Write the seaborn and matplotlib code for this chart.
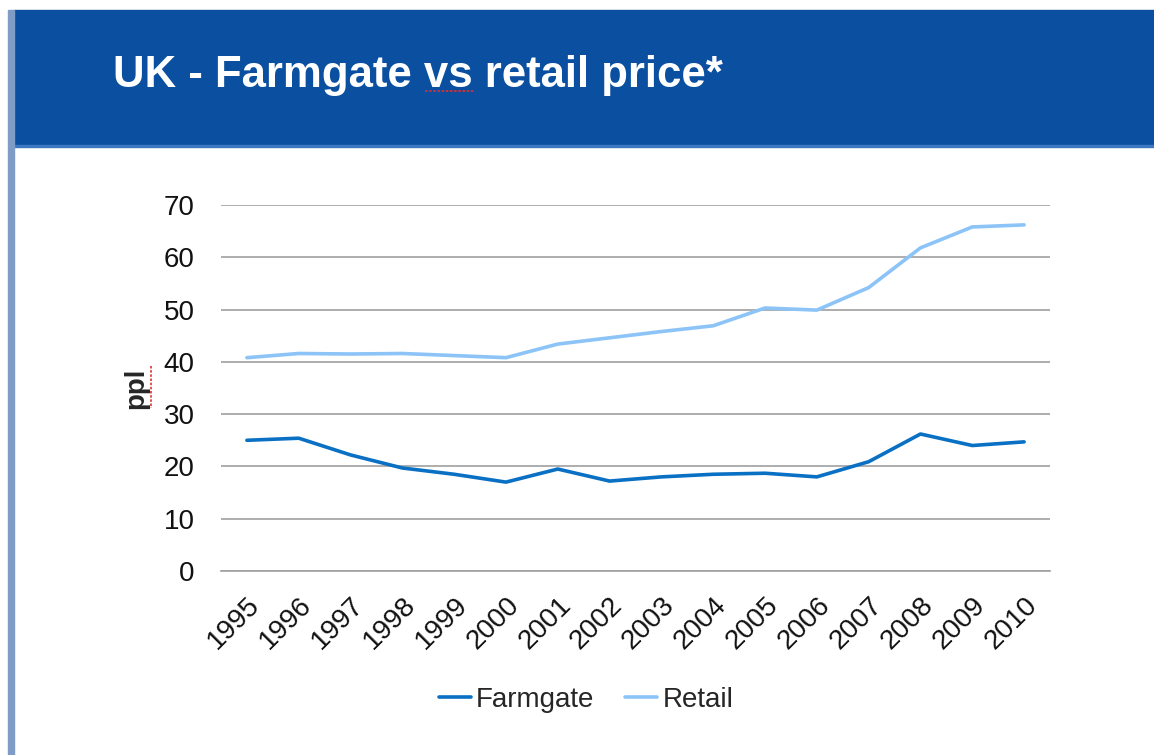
import pandas as pd
import matplotlib.pyplot as plt
import seaborn as sns
from matplotlib.patches import Rectangle
from matplotlib.lines import Line2D

#%% DATA
years = ['1995', '1996', '1997', '1998', '1999', '2000', '2001', '2002',
         '2003', '2004', '2005', '2006', '2007', '2008', '2009', '2010']
farmgate = [25.0, 25.4, 22.2, 19.7, 18.5, 17.0, 19.5, 17.2,
            18.0, 18.5, 18.7, 18.0, 20.9, 26.2, 24.0, 24.7]
retail = [40.8, 41.6, 41.5, 41.6, 41.2, 40.8, 43.4, 44.6,
          45.8, 46.9, 50.3, 49.9, 54.2, 61.8, 65.8, 66.2]
series_names = ['Farmgate', 'Retail']
y_ticks = [0, 10, 20, 30, 40, 50, 60, 70]

#%% STYLE
sns.set_style("white")
plt.rcParams['font.family'] = ['Liberation Sans', 'DejaVu Sans']

W, H = 1154, 755
band_blue = '#0b50a0'
line_colors = {'Farmgate': '#0a70c4', 'Retail': '#8cc4f8'}
tick_fs = 20

df = pd.DataFrame({
    'year': years * 2,
    'pos': list(range(len(years))) * 2,
    'ppl': farmgate + retail,
    'series': [series_names[0]] * len(years) + [series_names[1]] * len(years),
})

fig = plt.figure(figsize=(W / 100, H / 100), dpi=100)

# header band + left strip
fig.patches.append(Rectangle((14 / W, 1 - 146 / H), 1 - 14 / W, 136 / H,
                             transform=fig.transFigure, color=band_blue, zorder=0))
fig.patches.append(Rectangle((14 / W, 1 - 147 / H), 1 - 14 / W, 2 / H,
                             transform=fig.transFigure, color='#3b78c0', zorder=0))
fig.patches.append(Rectangle((8 / W, 0), 6 / W, 1 - 10 / H,
                             transform=fig.transFigure, color='#7f9cc6', zorder=0))
fig.text(113 / W, 1 - 76 / H, 'UK - Farmgate vs retail price*', color='white',
         fontsize=31.5, fontweight='bold', va='center', ha='left')

# spell-check squiggles (under "vs" and next to "ppl")
fig.lines.append(Line2D([425 / W, 474 / W], [1 - 91 / H, 1 - 91 / H], transform=fig.transFigure,
                        color='#e03030', lw=1.2, ls=(0, (1.5, 1))))
fig.lines.append(Line2D([151 / W, 151 / W], [1 - 366 / H, 1 - 408 / H], transform=fig.transFigure,
                        color='#e03030', lw=1.2, ls=(0, (1.5, 1))))

ax = fig.add_axes([221 / W, 1 - 571 / H, (1050 - 221) / W, (571 - 205) / H])
sns.lineplot(data=df, x='pos', y='ppl', hue='series', palette=line_colors,
             linewidth=2.6, ax=ax, legend=False)

ax.set_xlim(-0.5, len(years) - 0.5)
ax.set_ylim(0, 70)
ax.set_yticks(y_ticks)
ax.set_yticklabels([str(v) for v in y_ticks], fontsize=tick_fs, color='#111111')
ax.yaxis.grid(True, color='#a0a0a0', linewidth=1.2)
ax.set_axisbelow(True)
ax.tick_params(axis='y', length=0, pad=19)

# x axis: ticks at category boundaries, labels at centres
ax.set_xticks([i - 0.5 for i in range(len(years) + 1)])
ax.set_xticklabels([])
ax.set_xticks(range(len(years)), minor=True)
ax.set_xticklabels(years, minor=True, rotation=45, ha='right', rotation_mode='anchor',
                   fontsize=tick_fs, color='#111111')
ax.tick_params(axis='x', which='major', length=9, width=1.2, color='#a0a0a0', direction='out')
ax.tick_params(axis='x', which='minor', length=0, pad=15)

for side in ['left', 'right', 'top']:
    ax.spines[side].set_visible(False)
ax.spines['bottom'].set_color('#a0a0a0')
ax.spines['bottom'].set_linewidth(1.2)

ax.set_xlabel('')
ax.set_ylabel('ppl', fontsize=tick_fs, fontweight='bold', labelpad=10)

handles = [Line2D([], [], color=line_colors[s], linewidth=2.6) for s in series_names]
fig.legend(handles, series_names, loc='center', bbox_to_anchor=(586 / W, 1 - 700 / H),
           ncol=2, frameon=False, fontsize=20, handlelength=1.15, handletextpad=0.2,
           columnspacing=1.1)

fig.savefig('out.png', dpi=100)
